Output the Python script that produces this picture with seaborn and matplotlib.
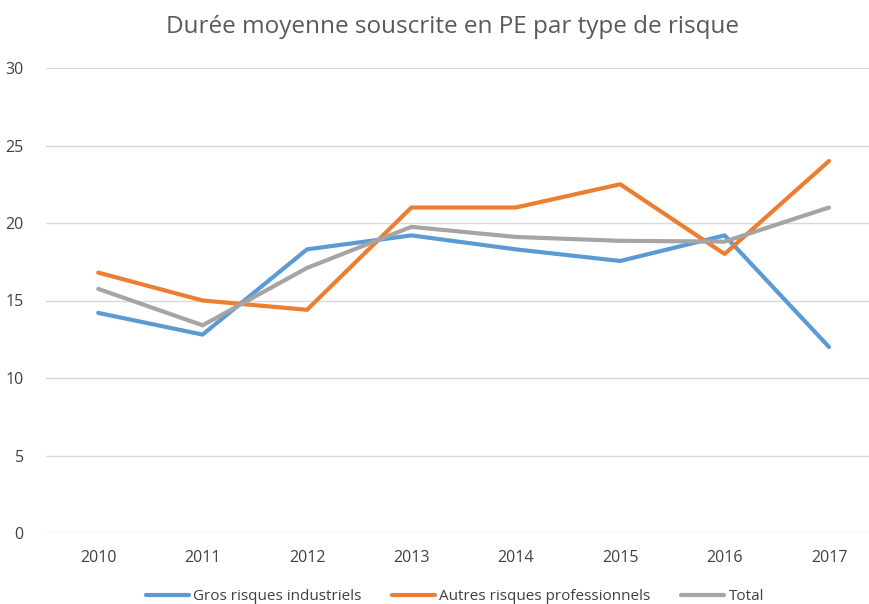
import matplotlib
matplotlib.use("Agg")
import matplotlib.pyplot as plt
import seaborn as sns
import pandas as pd

years = ["2010", "2011", "2012", "2013", "2014", "2015", "2016", "2017"]
gros = [14.2, 12.8, 18.3, 19.2, 18.3, 17.55, 19.2, 12.0]
autres = [16.8, 15.0, 14.4, 21.0, 21.0, 22.5, 18.0, 24.0]
total = [15.75, 13.4, 17.1, 19.75, 19.1, 18.85, 18.8, 21.0]
series_names = ["Gros risques industriels", "Autres risques professionnels", "Total"]
colors = ["#5B9BD5", "#ED7D31", "#A5A5A5"]
yticks = [0, 5, 10, 15, 20, 25, 30]

rows = []
for name, vals in zip(series_names, [gros, autres, total]):
    for i, v in enumerate(vals):
        rows.append({"pos": i, "year": years[i], "value": v, "serie": name})
df = pd.DataFrame(rows)

sns.set_theme(style="white")
plt.rcParams["font.family"] = ["Open Sans", "DejaVu Sans"]

fig = plt.figure(figsize=(8.69, 6.04), dpi=100)
ax = fig.add_axes([46 / 869, 1 - 533 / 604, 1 - 46 / 869, (533 - 68) / 604])

sns.lineplot(data=df, x="pos", y="value", hue="serie", hue_order=series_names,
             palette=colors, linewidth=3, ax=ax, legend=False, sort=False)

ax.set_xlim(-0.5, (869 - 98) / 104.43)
ax.set_ylim(0, 30)
ax.set_yticks(yticks)
ax.set_yticklabels([str(t) for t in yticks], fontsize=11.5, color="#404040")
ax.set_xticks(range(len(years)))
ax.set_xticklabels(years, fontsize=11.5, color="#404040")
ax.tick_params(axis="x", length=0, pad=12)
ax.tick_params(axis="y", length=0, pad=16)
ax.grid(axis="y", color="#D9D9D9", linewidth=1)
ax.set_axisbelow(True)
for s in ax.spines.values():
    s.set_visible(False)
ax.set_xlabel("")
ax.set_ylabel("")

fig.text(452 / 869, 1 - 27 / 604, "Durée moyenne souscrite en PE par type de risque",
         ha="center", va="center", fontsize=17.5, color="#595959")

from matplotlib.lines import Line2D
handles = [Line2D([0], [0], color=c, linewidth=3) for c in colors]
fig.legend(handles, series_names, loc="center", bbox_to_anchor=(455 / 869, 1 - 597 / 604),
           ncol=3, frameon=False, fontsize=11, handlelength=2.8, handletextpad=0.3,
           columnspacing=2.0, labelcolor="#404040")

fig.savefig("out.png", dpi=100)
